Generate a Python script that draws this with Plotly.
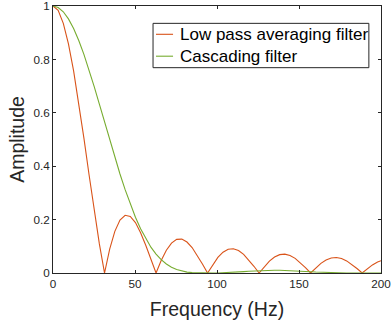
import plotly.graph_objects as go

# Frequency samples (Hz)
freq = [0, 3.14, 6.28, 9.42, 12.57, 15.71, 18.85, 21.99, 25.13, 28.27,
        31.42, 34.56, 37.70, 40.84, 43.98, 47.12, 50.27, 53.41, 56.55, 59.69,
        62.83, 65.97, 69.12, 72.26, 75.40, 78.54, 81.68, 84.82, 87.96, 91.11,
        94.25, 97.39, 100.53, 103.67, 106.81, 109.96, 113.10, 116.24, 119.38, 122.52,
        125.66, 128.81, 131.95, 135.09, 138.23, 141.37, 144.51, 147.65, 150.80, 153.94,
        157.08, 160.22, 163.36, 166.50, 169.65, 172.79, 175.93, 179.07, 182.21, 185.35,
        188.50, 191.64, 194.78, 197.92, 200]

# Low pass averaging filter amplitude
low_pass = [1.0, 0.984, 0.935, 0.858, 0.757, 0.637, 0.505, 0.368, 0.234, 0.109,
            0.0, 0.0894, 0.156, 0.198, 0.216, 0.212, 0.189, 0.151, 0.104, 0.0518,
            0.0, 0.0468, 0.0851, 0.112, 0.126, 0.127, 0.116, 0.0954, 0.0668, 0.0339,
            0.0, 0.0317, 0.0585, 0.0780, 0.0890, 0.0909, 0.0841, 0.0696, 0.0493, 0.0252,
            0.0, 0.0240, 0.0446, 0.0599, 0.0688, 0.0707, 0.0658, 0.0548, 0.0390, 0.0201,
            0.0, 0.0193, 0.0360, 0.0486, 0.0561, 0.0579, 0.0541, 0.0452, 0.0323, 0.0167,
            0.0, 0.0161, 0.0302, 0.0409, 0.0458]

# Cascading filter amplitude
cascading = [1.0, 0.9945, 0.9783, 0.9517, 0.9155, 0.8708, 0.8187, 0.7606, 0.6980, 0.6325,
             0.5656, 0.4988, 0.4335, 0.3709, 0.3122, 0.2580, 0.2091, 0.1659, 0.1284, 0.0968,
             0.0707, 0.0498, 0.0336, 0.0214, 0.0128, 0.0070, 0.0033, 0.0013, 0.0004, 0.00004,
             0.0, 0.00003, 0.00024, 0.00072, 0.00149, 0.00254, 0.00379, 0.00515, 0.00651, 0.00777,
             0.00884, 0.00963, 0.01011, 0.01025, 0.01006, 0.00956, 0.00880, 0.00785, 0.00677, 0.00564,
             0.00452, 0.00348, 0.00254, 0.00175, 0.00112, 0.00065, 0.00033, 0.00014, 0.00004, 0.000005,
             0.0, 0.000004, 0.00003, 0.0001, 0.00018]

series_names = ["Low pass averaging filter", "Cascading filter"]
series_colors = ["#D95319", "#77AC30"]

x_ticks = [0, 50, 100, 150, 200]
y_ticks = [0, 0.2, 0.4, 0.6, 0.8, 1]
y_tick_text = ["0", "0.2", "0.4", "0.6", "0.8", "1"]

FONT = "Liberation Sans, Arial, Helvetica, sans-serif"
AX = "#262626"

fig = go.Figure()
for name, ys, col in zip(series_names, [low_pass, cascading], series_colors):
    fig.add_trace(go.Scatter(x=freq, y=ys, mode="lines", name=name,
                             line=dict(color=col, width=1.1), showlegend=False))

axis_common = dict(showline=True, linecolor=AX, linewidth=1, mirror="ticks",
                   ticks="inside", ticklen=3, tickwidth=1, tickcolor=AX,
                   showgrid=False, zeroline=False, ticklabeloverflow="allow",
                   automargin=False,
                   tickfont=dict(family=FONT, size=11.7, color=AX))

# MATLAB-style legend box (paper coordinates of plot area)
leg_x0, leg_x1, leg_y0, leg_y1 = 0.305, 0.963, 0.769, 0.935
row_y = [0.894, 0.812]
line_x0, line_x1, text_x = 0.314, 0.366, 0.381

shapes = [dict(type="rect", xref="paper", yref="paper", x0=leg_x0, x1=leg_x1,
               y0=leg_y0, y1=leg_y1, line=dict(color=AX, width=1), fillcolor="white",
               layer="above")]
annotations = []
for name, col, ry in zip(series_names, series_colors, row_y):
    shapes.append(dict(type="line", xref="paper", yref="paper", x0=line_x0, x1=line_x1,
                       y0=ry, y1=ry, line=dict(color=col, width=1.1), layer="above"))
    annotations.append(dict(text=name, xref="paper", yref="paper", x=text_x, y=ry,
                            xanchor="left", yanchor="middle", showarrow=False,
                            font=dict(family=FONT, size=17, color="black")))

fig.update_layout(
    width=391, height=327,
    margin=dict(l=53, r=10, t=6, b=54),
    paper_bgcolor="white", plot_bgcolor="white",
    font=dict(family=FONT, color=AX),
    xaxis=dict(range=[0, 200], tickvals=x_ticks,
               title=dict(text="Frequency (Hz)", font=dict(family=FONT, size=19.5, color=AX), standoff=13),
               **axis_common),
    yaxis=dict(range=[0, 1], tickvals=y_ticks, ticktext=y_tick_text,
               title=dict(text="Amplitude", font=dict(family=FONT, size=19.5, color=AX), standoff=3),
               **axis_common),
    shapes=shapes,
    annotations=annotations,
    showlegend=False,
)

fig.write_html("out.html")
